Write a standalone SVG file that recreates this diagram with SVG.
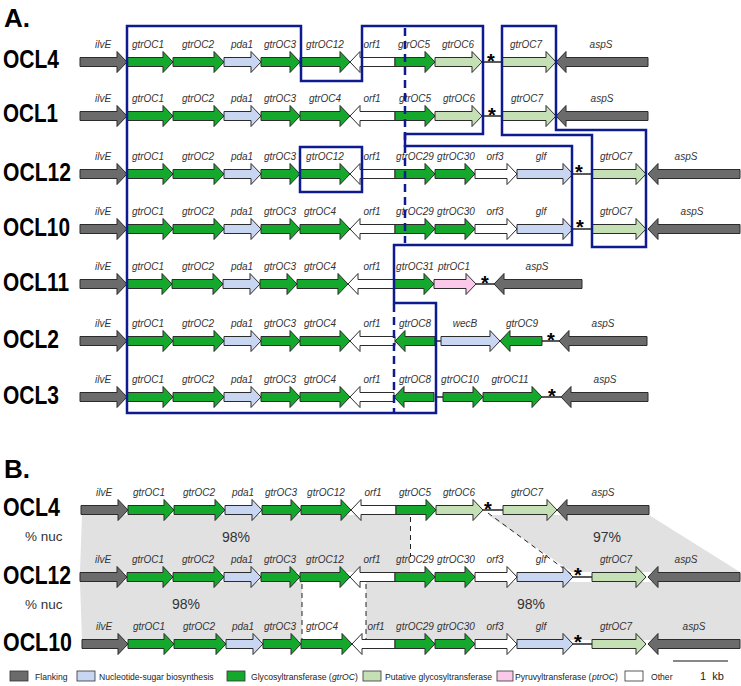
<svg xmlns="http://www.w3.org/2000/svg" width="741" height="686" viewBox="0 0 741 686">
<style>
polygon{stroke:#2b2b2b;stroke-width:1}
.fl{fill:#6b6b6b}.ns{fill:#c9d6f1}.gt{fill:#14a92c}.pg{fill:#c6e0b6}.py{fill:#fac8e8}.ot{fill:#ffffff}
.lb{font-family:"Liberation Sans",Arial,sans-serif;font-style:italic;font-size:10px;fill:#333;text-anchor:middle}
.row{font-family:"Liberation Sans",Arial,sans-serif;font-weight:bold;font-size:25px;fill:#000}
.st{font-family:"Liberation Sans",Arial,sans-serif;font-weight:bold;font-size:20px;fill:#000;text-anchor:middle}
.ln{stroke:#222;stroke-width:1.5}
.frame{fill:none;stroke:#0d1b8e;stroke-width:2.5}
.dash{fill:none;stroke:#0d1b8e;stroke-width:2.5;stroke-dasharray:8,5}
.bd{fill:none;stroke:#222;stroke-width:1;stroke-dasharray:5,4}
.sh{fill:#e1e1e1}
.pc{font-family:"Liberation Sans",Arial,sans-serif;font-size:14px;fill:#333;text-anchor:middle}
.nuc{font-family:"Liberation Sans",Arial,sans-serif;font-size:13.5px;fill:#333}
.lg{font-family:"Liberation Sans",Arial,sans-serif;font-size:8.6px;fill:#222}
.it{font-style:italic}
.lgb{stroke:#333;stroke-width:0.8}
.hd{font-family:"Liberation Sans",Arial,sans-serif;font-weight:bold;font-size:26px;fill:#000}
</style>

<text class="hd" x="4" y="27">A.</text>
<text class="hd" x="4" y="478">B.</text>

<g id="similarity">
<polygon class="sh" style="stroke:none" points="82,515 410,515 410,572 80,572"/>
<polygon class="sh" style="stroke:none" points="488,515 649,515 740,572 572,572"/>
<polygon class="sh" style="stroke:none" points="80,582 302,582 302,640 82,640"/>
<polygon class="sh" style="stroke:none" points="366,582 741,582 741,640 366,640"/>
<text class="nuc" x="25" y="541">% nuc</text>
<text class="nuc" x="25" y="609">% nuc</text>
<text class="pc" x="236" y="542">98%</text>
<text class="pc" x="607" y="542">97%</text>
<text class="pc" x="186" y="609">98%</text>
<text class="pc" x="531" y="609">98%</text>
</g>

<g id="connectors">
<line class="ln" x1="482" y1="62" x2="502" y2="62"/>
<line class="ln" x1="482" y1="116" x2="502" y2="116"/>
<line class="ln" x1="573" y1="174" x2="592" y2="174"/>
<line class="ln" x1="573" y1="229" x2="592" y2="229"/>
<line class="ln" x1="476" y1="284" x2="494" y2="284"/>
<line class="ln" x1="435" y1="341" x2="441" y2="341"/>
<line class="ln" x1="542" y1="341" x2="559" y2="341"/>
<line class="ln" x1="435" y1="397" x2="443" y2="397"/>
<line class="ln" x1="542" y1="397" x2="561" y2="397"/>
<line class="ln" x1="483" y1="510" x2="503" y2="510"/>
<line class="ln" x1="573" y1="577" x2="592" y2="577"/>
<line class="ln" x1="573" y1="644" x2="592" y2="644"/>
<path class="bd" d="M410.5,517 V557"/>
<path class="bd" d="M488,513 L571,574"/>
<path class="bd" d="M302,584 V640"/>
<path class="bd" d="M366,584 V640"/>
</g>

<g id="A-OCL4" transform="translate(0,62)">
<text class="row" x="3" y="6" textLength="56" lengthAdjust="spacingAndGlyphs">OCL4</text>
<polygon class="fl" points="80,-4.5 117,-4.5 117,-10.5 127,0 117,10.5 117,4.5 80,4.5"/><text class="lb" x="103" y="-14">ilvE</text>
<polygon class="gt" points="127,-4.5 163,-4.5 163,-10.5 173,0 163,10.5 163,4.5 127,4.5"/><text class="lb" x="148" y="-14">gtrOC1</text>
<polygon class="gt" points="173,-4.5 214,-4.5 214,-10.5 224,0 214,10.5 214,4.5 173,4.5"/><text class="lb" x="198" y="-14">gtrOC2</text>
<polygon class="ns" points="224,-4.5 251,-4.5 251,-10.5 261,0 251,10.5 251,4.5 224,4.5"/><text class="lb" x="242" y="-14">pda1</text>
<polygon class="gt" points="261,-4.5 290,-4.5 290,-10.5 300,0 290,10.5 290,4.5 261,4.5"/><text class="lb" x="280" y="-14">gtrOC3</text>
<polygon class="gt" points="300,-4.5 340,-4.5 340,-10.5 350,0 340,10.5 340,4.5 300,4.5"/><text class="lb" x="325" y="-14">gtrOC12</text>
<polygon class="ot" points="350,0 360,-10.5 360,-4.5 395,-4.5 395,4.5 360,4.5 360,10.5"/><text class="lb" x="372" y="-14">orf1</text>
<polygon class="gt" points="395,-4.5 425,-4.5 425,-10.5 435,0 425,10.5 425,4.5 395,4.5"/><text class="lb" x="414" y="-14">gtrOC5</text>
<polygon class="pg" points="435,-4.5 472,-4.5 472,-10.5 482,0 472,10.5 472,4.5 435,4.5"/><text class="lb" x="458" y="-14">gtrOC6</text>
<text class="st" x="491" y="6">*</text>
<polygon class="pg" points="502,-4.5 546,-4.5 546,-10.5 556,0 546,10.5 546,4.5 502,4.5"/><text class="lb" x="526" y="-14">gtrOC7</text>
<polygon class="fl" points="556,0 566,-10.5 566,-4.5 648,-4.5 648,4.5 566,4.5 566,10.5"/><text class="lb" x="601" y="-14">aspS</text>
</g>

<g id="A-OCL1" transform="translate(0,116)">
<text class="row" x="3" y="6" textLength="55" lengthAdjust="spacingAndGlyphs">OCL1</text>
<polygon class="fl" points="80,-4.5 117,-4.5 117,-10.5 127,0 117,10.5 117,4.5 80,4.5"/><text class="lb" x="103" y="-14">ilvE</text>
<polygon class="gt" points="127,-4.5 163,-4.5 163,-10.5 173,0 163,10.5 163,4.5 127,4.5"/><text class="lb" x="148" y="-14">gtrOC1</text>
<polygon class="gt" points="173,-4.5 214,-4.5 214,-10.5 224,0 214,10.5 214,4.5 173,4.5"/><text class="lb" x="198" y="-14">gtrOC2</text>
<polygon class="ns" points="224,-4.5 251,-4.5 251,-10.5 261,0 251,10.5 251,4.5 224,4.5"/><text class="lb" x="242" y="-14">pda1</text>
<polygon class="gt" points="261,-4.5 290,-4.5 290,-10.5 300,0 290,10.5 290,4.5 261,4.5"/><text class="lb" x="280" y="-14">gtrOC3</text>
<polygon class="gt" points="300,-4.5 340,-4.5 340,-10.5 350,0 340,10.5 340,4.5 300,4.5"/><text class="lb" x="325" y="-14">gtrOC4</text>
<polygon class="ot" points="350,0 360,-10.5 360,-4.5 395,-4.5 395,4.5 360,4.5 360,10.5"/><text class="lb" x="372" y="-14">orf1</text>
<polygon class="gt" points="395,-4.5 425,-4.5 425,-10.5 435,0 425,10.5 425,4.5 395,4.5"/><text class="lb" x="415" y="-14">gtrOC5</text>
<polygon class="pg" points="435,-4.5 472,-4.5 472,-10.5 482,0 472,10.5 472,4.5 435,4.5"/><text class="lb" x="459" y="-14">gtrOC6</text>
<text class="st" x="492" y="6">*</text>
<polygon class="pg" points="502,-4.5 546,-4.5 546,-10.5 556,0 546,10.5 546,4.5 502,4.5"/><text class="lb" x="527" y="-14">gtrOC7</text>
<polygon class="fl" points="556,0 566,-10.5 566,-4.5 648,-4.5 648,4.5 566,4.5 566,10.5"/><text class="lb" x="602" y="-14">aspS</text>
</g>

<g id="A-OCL12" transform="translate(0,174)">
<text class="row" x="3" y="7" textLength="68" lengthAdjust="spacingAndGlyphs">OCL12</text>
<polygon class="fl" points="80,-4.5 117,-4.5 117,-10.5 127,0 117,10.5 117,4.5 80,4.5"/><text class="lb" x="103" y="-14">ilvE</text>
<polygon class="gt" points="127,-4.5 163,-4.5 163,-10.5 173,0 163,10.5 163,4.5 127,4.5"/><text class="lb" x="148" y="-14">gtrOC1</text>
<polygon class="gt" points="173,-4.5 214,-4.5 214,-10.5 224,0 214,10.5 214,4.5 173,4.5"/><text class="lb" x="198" y="-14">gtrOC2</text>
<polygon class="ns" points="224,-4.5 251,-4.5 251,-10.5 261,0 251,10.5 251,4.5 224,4.5"/><text class="lb" x="242" y="-14">pda1</text>
<polygon class="gt" points="261,-4.5 290,-4.5 290,-10.5 300,0 290,10.5 290,4.5 261,4.5"/><text class="lb" x="280" y="-14">gtrOC3</text>
<polygon class="gt" points="300,-4.5 340,-4.5 340,-10.5 350,0 340,10.5 340,4.5 300,4.5"/><text class="lb" x="325" y="-14">gtrOC12</text>
<polygon class="ot" points="350,0 360,-10.5 360,-4.5 395,-4.5 395,4.5 360,4.5 360,10.5"/><text class="lb" x="372" y="-14">orf1</text>
<polygon class="gt" points="395,-4.5 425,-4.5 425,-10.5 435,0 425,10.5 425,4.5 395,4.5"/><text class="lb" x="415" y="-14">gtrOC29</text>
<polygon class="gt" points="435,-4.5 465,-4.5 465,-10.5 475,0 465,10.5 465,4.5 435,4.5"/><text class="lb" x="456" y="-14">gtrOC30</text>
<polygon class="ot" points="475,-4.5 507,-4.5 507,-10.5 517,0 507,10.5 507,4.5 475,4.5"/><text class="lb" x="495" y="-14">orf3</text>
<polygon class="ns" points="517,-4.5 563,-4.5 563,-10.5 573,0 563,10.5 563,4.5 517,4.5"/><text class="lb" x="541" y="-14">glf</text>
<text class="st" x="579" y="5">*</text>
<polygon class="pg" points="592,-4.5 636,-4.5 636,-10.5 646,0 636,10.5 636,4.5 592,4.5"/><text class="lb" x="616" y="-14">gtrOC7</text>
<polygon class="fl" points="648,0 658,-10.5 658,-4.5 740,-4.5 740,4.5 658,4.5 658,10.5"/><text class="lb" x="686" y="-14">aspS</text>
</g>

<g id="A-OCL10" transform="translate(0,229)">
<text class="row" x="3" y="7" textLength="67" lengthAdjust="spacingAndGlyphs">OCL10</text>
<polygon class="fl" points="80,-4.5 117,-4.5 117,-10.5 127,0 117,10.5 117,4.5 80,4.5"/><text class="lb" x="103" y="-14">ilvE</text>
<polygon class="gt" points="127,-4.5 163,-4.5 163,-10.5 173,0 163,10.5 163,4.5 127,4.5"/><text class="lb" x="148" y="-14">gtrOC1</text>
<polygon class="gt" points="173,-4.5 214,-4.5 214,-10.5 224,0 214,10.5 214,4.5 173,4.5"/><text class="lb" x="198" y="-14">gtrOC2</text>
<polygon class="ns" points="224,-4.5 251,-4.5 251,-10.5 261,0 251,10.5 251,4.5 224,4.5"/><text class="lb" x="242" y="-14">pda1</text>
<polygon class="gt" points="261,-4.5 290,-4.5 290,-10.5 300,0 290,10.5 290,4.5 261,4.5"/><text class="lb" x="280" y="-14">gtrOC3</text>
<polygon class="gt" points="300,-4.5 340,-4.5 340,-10.5 350,0 340,10.5 340,4.5 300,4.5"/><text class="lb" x="320" y="-14">gtrOC4</text>
<polygon class="ot" points="350,0 360,-10.5 360,-4.5 395,-4.5 395,4.5 360,4.5 360,10.5"/><text class="lb" x="372" y="-14">orf1</text>
<polygon class="gt" points="395,-4.5 425,-4.5 425,-10.5 435,0 425,10.5 425,4.5 395,4.5"/><text class="lb" x="415" y="-14">gtrOC29</text>
<polygon class="gt" points="435,-4.5 465,-4.5 465,-10.5 475,0 465,10.5 465,4.5 435,4.5"/><text class="lb" x="456" y="-14">gtrOC30</text>
<polygon class="ot" points="475,-4.5 507,-4.5 507,-10.5 517,0 507,10.5 507,4.5 475,4.5"/><text class="lb" x="495" y="-14">orf3</text>
<polygon class="ns" points="517,-4.5 563,-4.5 563,-10.5 573,0 563,10.5 563,4.5 517,4.5"/><text class="lb" x="541" y="-14">glf</text>
<text class="st" x="580" y="5">*</text>
<polygon class="pg" points="592,-4.5 636,-4.5 636,-10.5 646,0 636,10.5 636,4.5 592,4.5"/><text class="lb" x="616" y="-14">gtrOC7</text>
<polygon class="fl" points="648,0 658,-10.5 658,-4.5 740,-4.5 740,4.5 658,4.5 658,10.5"/><text class="lb" x="692" y="-14">aspS</text>
</g>

<g id="A-OCL11" transform="translate(0,284)">
<text class="row" x="3" y="7" textLength="66" lengthAdjust="spacingAndGlyphs">OCL11</text>
<polygon class="fl" points="80,-4.5 117,-4.5 117,-10.5 127,0 117,10.5 117,4.5 80,4.5"/><text class="lb" x="103" y="-14">ilvE</text>
<polygon class="gt" points="127,-4.5 162,-4.5 162,-10.5 172,0 162,10.5 162,4.5 127,4.5"/><text class="lb" x="148" y="-14">gtrOC1</text>
<polygon class="gt" points="172,-4.5 213,-4.5 213,-10.5 223,0 213,10.5 213,4.5 172,4.5"/><text class="lb" x="198" y="-14">gtrOC2</text>
<polygon class="ns" points="223,-4.5 250,-4.5 250,-10.5 260,0 250,10.5 250,4.5 223,4.5"/><text class="lb" x="242" y="-14">pda1</text>
<polygon class="gt" points="260,-4.5 287,-4.5 287,-10.5 297,0 287,10.5 287,4.5 260,4.5"/><text class="lb" x="280" y="-14">gtrOC3</text>
<polygon class="gt" points="297,-4.5 338,-4.5 338,-10.5 348,0 338,10.5 338,4.5 297,4.5"/><text class="lb" x="320" y="-14">gtrOC4</text>
<polygon class="ot" points="348,0 358,-10.5 358,-4.5 394,-4.5 394,4.5 358,4.5 358,10.5"/><text class="lb" x="372" y="-14">orf1</text>
<polygon class="gt" points="394,-4.5 424,-4.5 424,-10.5 434,0 424,10.5 424,4.5 394,4.5"/><text class="lb" x="415" y="-14">gtrOC31</text>
<polygon class="py" points="434,-4.5 466,-4.5 466,-10.5 476,0 466,10.5 466,4.5 434,4.5"/><text class="lb" x="454" y="-14">ptrOC1</text>
<text class="st" x="485" y="6">*</text>
<polygon class="fl" points="494,0 504,-10.5 504,-4.5 582,-4.5 582,4.5 504,4.5 504,10.5"/><text class="lb" x="537" y="-14">aspS</text>
</g>

<g id="A-OCL2" transform="translate(0,341)">
<text class="row" x="3" y="7" textLength="56" lengthAdjust="spacingAndGlyphs">OCL2</text>
<polygon class="fl" points="80,-4.5 117,-4.5 117,-10.5 127,0 117,10.5 117,4.5 80,4.5"/><text class="lb" x="103" y="-14">ilvE</text>
<polygon class="gt" points="127,-4.5 163,-4.5 163,-10.5 173,0 163,10.5 163,4.5 127,4.5"/><text class="lb" x="148" y="-14">gtrOC1</text>
<polygon class="gt" points="173,-4.5 214,-4.5 214,-10.5 224,0 214,10.5 214,4.5 173,4.5"/><text class="lb" x="198" y="-14">gtrOC2</text>
<polygon class="ns" points="224,-4.5 251,-4.5 251,-10.5 261,0 251,10.5 251,4.5 224,4.5"/><text class="lb" x="242" y="-14">pda1</text>
<polygon class="gt" points="261,-4.5 290,-4.5 290,-10.5 300,0 290,10.5 290,4.5 261,4.5"/><text class="lb" x="280" y="-14">gtrOC3</text>
<polygon class="gt" points="300,-4.5 340,-4.5 340,-10.5 350,0 340,10.5 340,4.5 300,4.5"/><text class="lb" x="320" y="-14">gtrOC4</text>
<polygon class="ot" points="350,0 360,-10.5 360,-4.5 395,-4.5 395,4.5 360,4.5 360,10.5"/><text class="lb" x="372" y="-14">orf1</text>
<polygon class="gt" points="395,0 405,-10.5 405,-4.5 435,-4.5 435,4.5 405,4.5 405,10.5"/><text class="lb" x="415" y="-14">gtrOC8</text>
<polygon class="ns" points="441,-4.5 490,-4.5 490,-10.5 500,0 490,10.5 490,4.5 441,4.5"/><text class="lb" x="465" y="-14">wecB</text>
<polygon class="gt" points="500,0 510,-10.5 510,-4.5 542,-4.5 542,4.5 510,4.5 510,10.5"/><text class="lb" x="522" y="-14">gtrOC9</text>
<text class="st" x="551" y="6">*</text>
<polygon class="fl" points="559,0 569,-10.5 569,-4.5 647,-4.5 647,4.5 569,4.5 569,10.5"/><text class="lb" x="603" y="-14">aspS</text>
</g>

<g id="A-OCL3" transform="translate(0,397)">
<text class="row" x="3" y="7" textLength="56" lengthAdjust="spacingAndGlyphs">OCL3</text>
<polygon class="fl" points="80,-4.5 117,-4.5 117,-10.5 127,0 117,10.5 117,4.5 80,4.5"/><text class="lb" x="103" y="-14">ilvE</text>
<polygon class="gt" points="127,-4.5 163,-4.5 163,-10.5 173,0 163,10.5 163,4.5 127,4.5"/><text class="lb" x="148" y="-14">gtrOC1</text>
<polygon class="gt" points="173,-4.5 214,-4.5 214,-10.5 224,0 214,10.5 214,4.5 173,4.5"/><text class="lb" x="198" y="-14">gtrOC2</text>
<polygon class="ns" points="224,-4.5 251,-4.5 251,-10.5 261,0 251,10.5 251,4.5 224,4.5"/><text class="lb" x="242" y="-14">pda1</text>
<polygon class="gt" points="261,-4.5 290,-4.5 290,-10.5 300,0 290,10.5 290,4.5 261,4.5"/><text class="lb" x="280" y="-14">gtrOC3</text>
<polygon class="gt" points="300,-4.5 340,-4.5 340,-10.5 350,0 340,10.5 340,4.5 300,4.5"/><text class="lb" x="320" y="-14">gtrOC4</text>
<polygon class="ot" points="350,0 360,-10.5 360,-4.5 394,-4.5 394,4.5 360,4.5 360,10.5"/><text class="lb" x="372" y="-14">orf1</text>
<polygon class="gt" points="394,0 404,-10.5 404,-4.5 434,-4.5 434,4.5 404,4.5 404,10.5"/><text class="lb" x="415" y="-14">gtrOC8</text>
<polygon class="gt" points="443,-4.5 473,-4.5 473,-10.5 483,0 473,10.5 473,4.5 443,4.5"/><text class="lb" x="460" y="-14">gtrOC10</text>
<polygon class="gt" points="483,-4.5 532,-4.5 532,-10.5 542,0 532,10.5 532,4.5 483,4.5"/><text class="lb" x="510" y="-14">gtrOC11</text>
<text class="st" x="552" y="6">*</text>
<polygon class="fl" points="561,0 571,-10.5 571,-4.5 648,-4.5 648,4.5 571,4.5 571,10.5"/><text class="lb" x="605" y="-14">aspS</text>
</g>

<g id="frames">
<path class="frame" d="M127,26 H301 V81 H362 V26 H483 V134 H405 V146 H572 V245 H394 V303 H436 V413 H127 Z"/>
<path class="frame" d="M502,26 H556 V130 H646 V247 H592 V135 H502 Z"/>
<path class="frame" d="M300,147 H362 V192 H300 Z"/>
<path class="dash" d="M405,28 V243"/>
<path class="dash" d="M394,304 V412"/>
</g>

<g id="B-OCL4" transform="translate(1,510)">
<text class="row" x="2" y="6" textLength="57" lengthAdjust="spacingAndGlyphs">OCL4</text>
<polygon class="fl" points="80,-4.5 117,-4.5 117,-10.5 127,0 117,10.5 117,4.5 80,4.5"/><text class="lb" x="103" y="-14">ilvE</text>
<polygon class="gt" points="127,-4.5 163,-4.5 163,-10.5 173,0 163,10.5 163,4.5 127,4.5"/><text class="lb" x="148" y="-14">gtrOC1</text>
<polygon class="gt" points="173,-4.5 214,-4.5 214,-10.5 224,0 214,10.5 214,4.5 173,4.5"/><text class="lb" x="198" y="-14">gtrOC2</text>
<polygon class="ns" points="224,-4.5 251,-4.5 251,-10.5 261,0 251,10.5 251,4.5 224,4.5"/><text class="lb" x="242" y="-14">pda1</text>
<polygon class="gt" points="261,-4.5 290,-4.5 290,-10.5 300,0 290,10.5 290,4.5 261,4.5"/><text class="lb" x="280" y="-14">gtrOC3</text>
<polygon class="gt" points="300,-4.5 340,-4.5 340,-10.5 350,0 340,10.5 340,4.5 300,4.5"/><text class="lb" x="325" y="-14">gtrOC12</text>
<polygon class="ot" points="350,0 360,-10.5 360,-4.5 395,-4.5 395,4.5 360,4.5 360,10.5"/><text class="lb" x="372" y="-14">orf1</text>
<polygon class="gt" points="395,-4.5 425,-4.5 425,-10.5 435,0 425,10.5 425,4.5 395,4.5"/><text class="lb" x="414" y="-14">gtrOC5</text>
<polygon class="pg" points="435,-4.5 472,-4.5 472,-10.5 482,0 472,10.5 472,4.5 435,4.5"/><text class="lb" x="458" y="-14">gtrOC6</text>
<text class="st" x="487" y="6">*</text>
<polygon class="pg" points="502,-4.5 546,-4.5 546,-10.5 556,0 546,10.5 546,4.5 502,4.5"/><text class="lb" x="526" y="-14">gtrOC7</text>
<polygon class="fl" points="556,0 566,-10.5 566,-4.5 648,-4.5 648,4.5 566,4.5 566,10.5"/><text class="lb" x="602" y="-14">aspS</text>
</g>

<g id="B-OCL12" transform="translate(0,577)">
<text class="row" x="3" y="7" textLength="68" lengthAdjust="spacingAndGlyphs">OCL12</text>
<polygon class="fl" points="80,-4.5 117,-4.5 117,-10.5 127,0 117,10.5 117,4.5 80,4.5"/><text class="lb" x="103" y="-14">ilvE</text>
<polygon class="gt" points="127,-4.5 163,-4.5 163,-10.5 173,0 163,10.5 163,4.5 127,4.5"/><text class="lb" x="148" y="-14">gtrOC1</text>
<polygon class="gt" points="173,-4.5 214,-4.5 214,-10.5 224,0 214,10.5 214,4.5 173,4.5"/><text class="lb" x="198" y="-14">gtrOC2</text>
<polygon class="ns" points="224,-4.5 251,-4.5 251,-10.5 261,0 251,10.5 251,4.5 224,4.5"/><text class="lb" x="242" y="-14">pda1</text>
<polygon class="gt" points="261,-4.5 290,-4.5 290,-10.5 300,0 290,10.5 290,4.5 261,4.5"/><text class="lb" x="280" y="-14">gtrOC3</text>
<polygon class="gt" points="300,-4.5 340,-4.5 340,-10.5 350,0 340,10.5 340,4.5 300,4.5"/><text class="lb" x="325" y="-14">gtrOC12</text>
<polygon class="ot" points="350,0 360,-10.5 360,-4.5 395,-4.5 395,4.5 360,4.5 360,10.5"/><text class="lb" x="372" y="-14">orf1</text>
<polygon class="gt" points="395,-4.5 425,-4.5 425,-10.5 435,0 425,10.5 425,4.5 395,4.5"/><text class="lb" x="415" y="-14">gtrOC29</text>
<polygon class="gt" points="435,-4.5 465,-4.5 465,-10.5 475,0 465,10.5 465,4.5 435,4.5"/><text class="lb" x="456" y="-14">gtrOC30</text>
<polygon class="ot" points="475,-4.5 507,-4.5 507,-10.5 517,0 507,10.5 507,4.5 475,4.5"/><text class="lb" x="495" y="-14">orf3</text>
<polygon class="ns" points="517,-4.5 563,-4.5 563,-10.5 573,0 563,10.5 563,4.5 517,4.5"/><text class="lb" x="541" y="-14">glf</text>
<text class="st" x="578" y="5">*</text>
<polygon class="pg" points="592,-4.5 636,-4.5 636,-10.5 646,0 636,10.5 636,4.5 592,4.5"/><text class="lb" x="616" y="-14">gtrOC7</text>
<polygon class="fl" points="648,0 658,-10.5 658,-4.5 740,-4.5 740,4.5 658,4.5 658,10.5"/><text class="lb" x="686" y="-14">aspS</text>
</g>

<g id="B-OCL10" transform="translate(0,644)">
<text class="row" x="3" y="7" textLength="69" lengthAdjust="spacingAndGlyphs">OCL10</text>
<polygon class="fl" points="82,-4.5 118,-4.5 118,-10.5 128,0 118,10.5 118,4.5 82,4.5"/><text class="lb" x="104" y="-14">ilvE</text>
<polygon class="gt" points="128,-4.5 164,-4.5 164,-10.5 174,0 164,10.5 164,4.5 128,4.5"/><text class="lb" x="149" y="-14">gtrOC1</text>
<polygon class="gt" points="174,-4.5 216,-4.5 216,-10.5 226,0 216,10.5 216,4.5 174,4.5"/><text class="lb" x="199" y="-14">gtrOC2</text>
<polygon class="ns" points="226,-4.5 253,-4.5 253,-10.5 263,0 253,10.5 253,4.5 226,4.5"/><text class="lb" x="243" y="-14">pda1</text>
<polygon class="gt" points="263,-4.5 291,-4.5 291,-10.5 301,0 291,10.5 291,4.5 263,4.5"/><text class="lb" x="280" y="-14">gtrOC3</text>
<polygon class="gt" points="301,-4.5 342,-4.5 342,-10.5 352,0 342,10.5 342,4.5 301,4.5"/><text class="lb" x="322" y="-14">gtrOC4</text>
<polygon class="ot" points="352,0 362,-10.5 362,-4.5 395,-4.5 395,4.5 362,4.5 362,10.5"/><text class="lb" x="376" y="-14">orf1</text>
<polygon class="gt" points="395,-4.5 425,-4.5 425,-10.5 435,0 425,10.5 425,4.5 395,4.5"/><text class="lb" x="415" y="-14">gtrOC29</text>
<polygon class="gt" points="435,-4.5 465,-4.5 465,-10.5 475,0 465,10.5 465,4.5 435,4.5"/><text class="lb" x="456" y="-14">gtrOC30</text>
<polygon class="ot" points="475,-4.5 507,-4.5 507,-10.5 517,0 507,10.5 507,4.5 475,4.5"/><text class="lb" x="495" y="-14">orf3</text>
<polygon class="ns" points="517,-4.5 563,-4.5 563,-10.5 573,0 563,10.5 563,4.5 517,4.5"/><text class="lb" x="541" y="-14">glf</text>
<text class="st" x="578" y="5">*</text>
<polygon class="pg" points="592,-4.5 636,-4.5 636,-10.5 646,0 636,10.5 636,4.5 592,4.5"/><text class="lb" x="616" y="-14">gtrOC7</text>
<polygon class="fl" points="648,0 658,-10.5 658,-4.5 740,-4.5 740,4.5 658,4.5 658,10.5"/><text class="lb" x="694" y="-14">aspS</text>
</g>

<g id="legend">
<rect class="fl lgb" x="10" y="671" width="18" height="10"/><text class="lg" x="35" y="680">Flanking</text>
<rect class="ns lgb" x="77" y="671" width="18" height="10"/><text class="lg" x="99" y="680">Nucleotide-sugar biosynthesis</text>
<rect class="gt lgb" x="227" y="671" width="18" height="10"/><text class="lg" x="251" y="680">Glycosyltransferase (</text><text class="lg it" x="332" y="680">gtrOC</text><text class="lg" x="355" y="680">)</text>
<rect class="pg lgb" x="363" y="671" width="18" height="10"/><text class="lg" x="385" y="680">Putative glycosyltransferase</text>
<rect class="py lgb" x="497" y="671" width="16" height="10"/><text class="lg" x="515" y="680">Pyruvyltransferase (</text><text class="lg it" x="592" y="680">ptrOC</text><text class="lg" x="615" y="680">)</text>
<rect class="ot lgb" x="625" y="671" width="18" height="10"/><text class="lg" x="651" y="680">Other</text>
<line x1="673" y1="661" x2="728" y2="661" stroke="#111" stroke-width="1.2"/>
<text class="lg" x="700" y="680" style="font-size:11px" xml:space="preserve">1  kb</text>
</g>
</svg>
